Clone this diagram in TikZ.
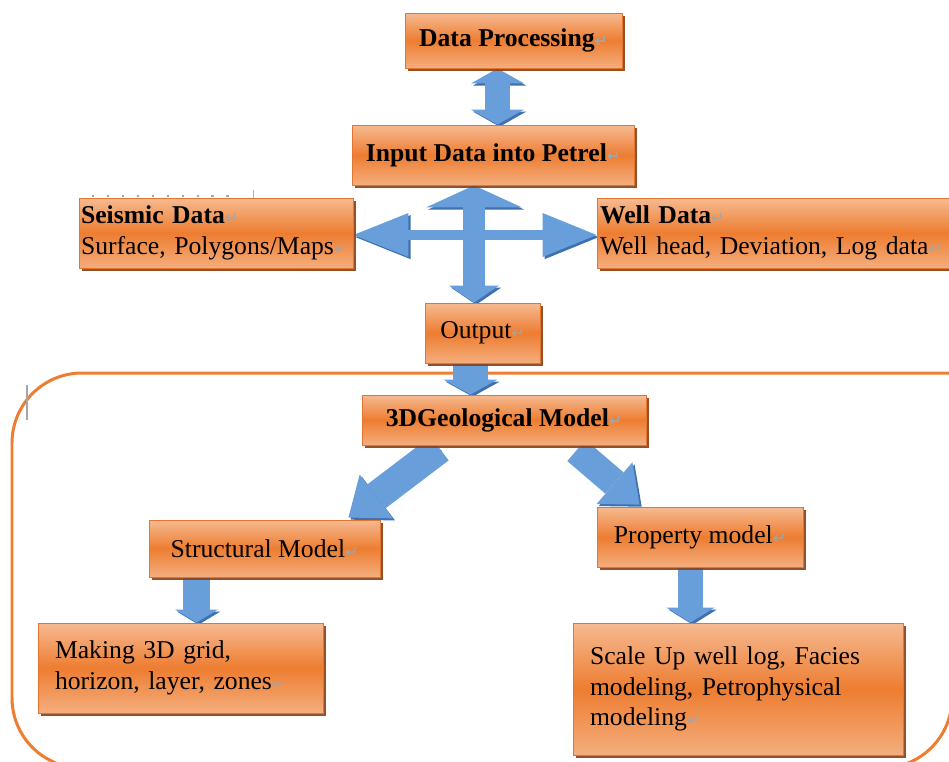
\documentclass[tikz,border=0pt]{standalone}
\usepackage{fontspec}
\setmainfont{Liberation Serif}
\newfontfamily\retfont{DejaVu Sans}
\usetikzlibrary{arrows.meta,calc,shadows,backgrounds,positioning}

\definecolor{boxlight}{RGB}{246,186,145}
\definecolor{boxdeep}{RGB}{237,125,49}
\definecolor{boxedge}{RGB}{226,118,48}
\definecolor{boxshadow}{RGB}{140,62,18}
\definecolor{arrowblue}{RGB}{104,158,218}
\definecolor{arrowdark}{RGB}{62,112,178}
\definecolor{frameorange}{RGB}{237,125,49}
\definecolor{retgray}{RGB}{165,165,165}

\newcommand{\ret}{{\retfont\color{retgray}\fontsize{9}{9}\selectfont ↵}}

\tikzset{
  procbox/.style={draw=boxedge, line width=0.5pt,
    top color=boxlight, bottom color=boxlight!80!boxdeep, middle color=boxdeep,
    drop shadow={shadow xshift=1.8pt, shadow yshift=-1.8pt, fill=boxshadow, opacity=0.9},
    inner sep=0pt, align=center, font=\fontsize{14.6}{17.5}\selectfont},
  titlebold/.style={font=\fontsize{14.6}{17.5}\selectfont\bfseries},
  textbox/.style={procbox, align=left, inner xsep=#1},
  block/.style n args={3}{draw=arrowblue, line width=#1,
    -{Triangle[width=#2, length=#3, line width=0pt]},
    preaction={draw=arrowdark, transform canvas={shift={(1.2pt,-1.2pt)}}}},
  dblblock/.style n args={3}{block={#1}{#2}{#3},
    {Triangle[width=#2, length=#3, line width=0pt]}-{Triangle[width=#2, length=#3, line width=0pt]}},
}

\begin{document}
\begin{tikzpicture}[x=0.02cm, y=-0.02cm]
\useasboundingbox (0,0) rectangle (949,761);

% boxes
\node[procbox, titlebold, minimum width=4.34cm, minimum height=1.10cm] (dp) at (513.5,40.5) {Data Processing\ret};
\node[procbox, titlebold, minimum width=5.64cm, minimum height=1.20cm] (input) at (493,155) {Input Data into Petrel\ret};
\node[textbox=0.04cm, text width=5.40cm, minimum height=1.40cm] (seismic) at (216,233) {\textbf{Seismic Data}\ret\\Surface, Polygons/Maps\ret};
\node[textbox=0.06cm, text width=6.98cm, minimum height=1.40cm] (well) at (774.5,233) {\textbf{Well Data}\ret\\Well head, Deviation, Log data\ret};
\node[procbox, minimum width=2.30cm, minimum height=1.20cm] (output) at (482.5,333) {Output\ret};
\node[procbox, titlebold, minimum width=5.68cm, minimum height=1.00cm] (geo) at (504,420) {3DGeological Model\ret};
\node[procbox, minimum width=4.62cm, minimum height=1.14cm] (struct) at (264.5,548.5) {Structural Model\ret};
\node[procbox, minimum width=4.12cm, minimum height=1.20cm] (prop) at (700,537) {Property model\ret};
\node[textbox=0.34cm, text width=5.02cm, minimum height=1.80cm] (grid) at (180.5,668) {Making 3D grid,\\horizon, layer, zones\ret};
\node[textbox=0.34cm, text width=5.92cm, minimum height=2.64cm] (scale) at (738,689) {Scale Up well log, Facies\\modeling, Petrophysical\\modeling\ret};

\coordinate (hub) at (474,235);
\coordinate (dpin) at ($(dp.south)+(-16,0)$);
\coordinate (outb) at ($(output.south)+(-12,0)$);
\coordinate (stb) at ($(struct.south)+(-68,0)$);
\coordinate (prb) at ($(prop.south)+(-9.5,0)$);

\begin{scope}[on background layer]
  % frame round the model part
  \draw[frameorange, line width=1.7pt, rounded corners=1.4cm] (990,373) -- (12,373) -- (12,768) -- (952,768) -- (952,560);
  \draw[gray!70, line width=1.2pt, dash pattern=on 1.2pt off 7.3pt] (92,196) -- (235,196);
  \draw[gray!60, line width=0.4pt] (253,190) -- (253,198);
  \draw[gray!70, line width=0.6pt] (27,385) -- (27,420);
  % block arrows
  \draw[dblblock={0.5cm}{1.06cm}{0.3cm}] (dpin) -- (dpin |- input.north);
  \draw[block={0.2cm}{0.88cm}{1.1cm}] (hub) -- (hub -| seismic.east);
  \draw[block={0.2cm}{0.88cm}{1.08cm}] (hub) -- (hub -| well.west);
  \draw[block={0.44cm}{1.92cm}{0.44cm}] (hub) -- (hub |- input.south);
  \draw[block={0.44cm}{1.0cm}{0.34cm}] (hub) -- (hub |- output.north);
  \draw[block={0.7cm}{1.08cm}{0.3cm}] (outb) -- (outb |- geo.north);
  \draw[block={0.6cm}{1.1cm}{0.7cm}] ($(geo.south west)+(78,3)$) -- ($(struct.north east)+(-32,-2)$);
  \draw[block={0.56cm}{1.1cm}{0.66cm}] ($(geo.south east)+(-70,5)$) -- ($(prop.north west)+(43,-2)$);
  \draw[block={0.54cm}{0.86cm}{0.26cm}] (stb) -- (stb |- grid.north);
  \draw[block={0.5cm}{0.96cm}{0.3cm}] (prb) -- (prb |- scale.north);
\end{scope}
\end{tikzpicture}
\end{document}
